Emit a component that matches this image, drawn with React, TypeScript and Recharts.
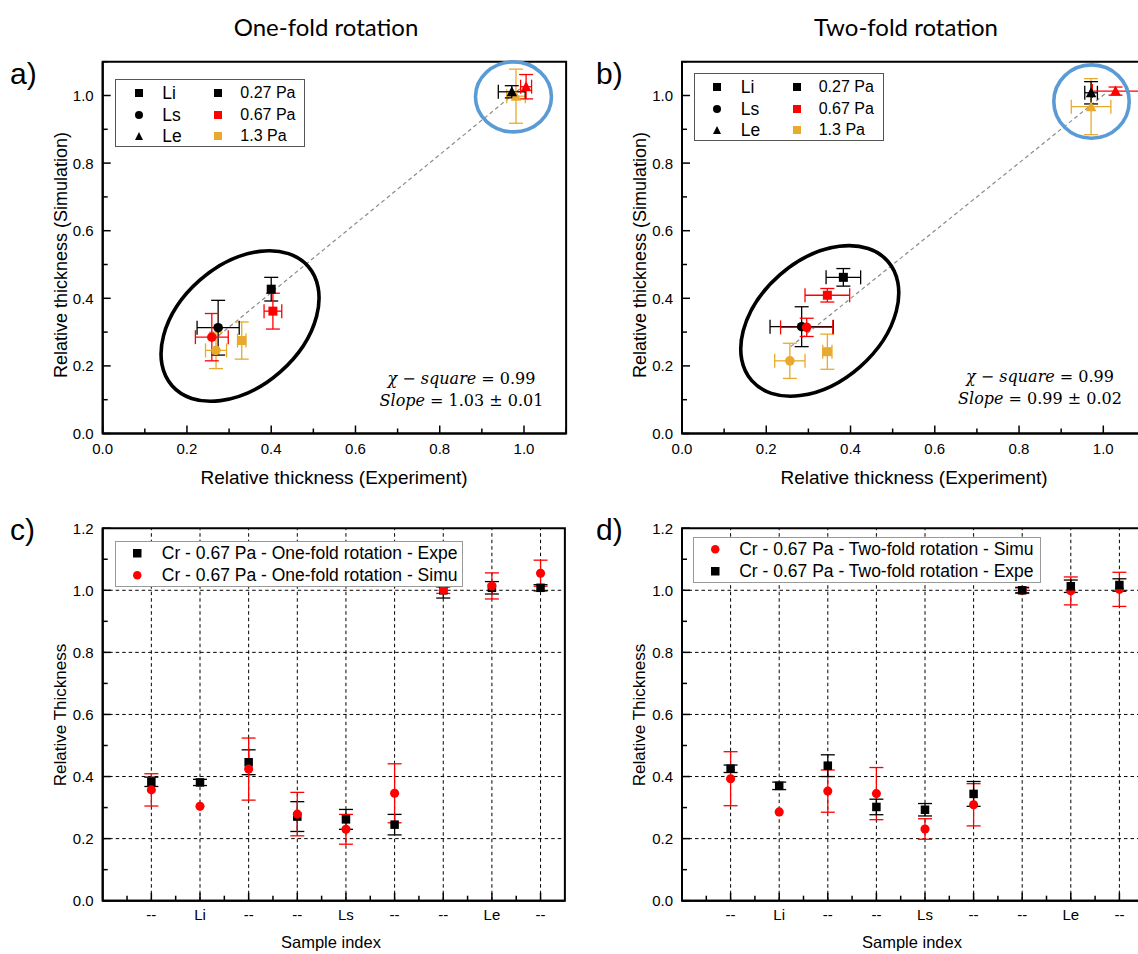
import React from 'react';
import {
  ScatterChart,
  Scatter,
  XAxis,
  YAxis,
  ErrorBar,
  ReferenceLine,
  ReferenceArea,
  ReferenceDot,
} from 'recharts';

// ---------- data: panel a (one-fold rotation, simulation vs experiment) ----------
const oneFold027 = [
  { sample: 'Li', x: 0.4, y: 0.427, ex: 0, ey: 0.035 },
  { sample: 'Ls', x: 0.274, y: 0.313, ex: 0.05, ey: 0.081 },
  { sample: 'Le', x: 0.971, y: 1.011, ex: 0.032, ey: 0.018 },
];
const oneFold067 = [
  { sample: 'Li', x: 0.404, y: 0.362, ex: 0.021, ey: 0.053 },
  { sample: 'Ls', x: 0.259, y: 0.285, ex: 0.039, ey: 0.07 },
  { sample: 'Le', x: 1.005, y: 1.026, ex: 0.013, ey: 0.036 },
];
const oneFold13 = [
  { sample: 'Li', x: 0.33, y: 0.275, ex: 0.01, ey: 0.055 },
  { sample: 'Ls', x: 0.269, y: 0.246, ex: 0.025, ey: 0.054 },
  { sample: 'Le', x: 0.981, y: 0.998, ex: 0.022, ey: 0.08 },
];
const oneFoldFitLine = [
  { x: 0.263, y: 0.277 },
  { x: 0.997, y: 1.026 },
];
const oneFoldEllipseCenter = { x: 0.326, y: 0.318 };
const oneFoldCircleCenter = { x: 0.975, y: 0.996 };

// ---------- data: panel b (two-fold rotation) ----------
const twoFold027 = [
  { sample: 'Li', x: 0.383, y: 0.462, ex: 0.041, ey: 0.026 },
  { sample: 'Ls', x: 0.284, y: 0.316, ex: 0.075, ey: 0.059 },
  { sample: 'Le', x: 0.971, y: 1.008, ex: 0.015, ey: 0.033 },
];
const twoFold067 = [
  { sample: 'Li', x: 0.345, y: 0.409, ex: 0.053, ey: 0.02 },
  { sample: 'Ls', x: 0.296, y: 0.314, ex: 0.062, ey: 0.027 },
  { sample: 'Le', x: 1.029, y: 1.013, ex: 0.055, ey: 0.012 },
];
const twoFold13 = [
  { sample: 'Li', x: 0.345, y: 0.242, ex: 0.011, ey: 0.052 },
  { sample: 'Ls', x: 0.256, y: 0.215, ex: 0.036, ey: 0.052 },
  { sample: 'Le', x: 0.971, y: 0.967, ex: 0.047, ey: 0.083 },
];
const twoFoldFitLine = [
  { x: 0.258, y: 0.257 },
  { x: 1.005, y: 1.006 },
];
const twoFoldEllipseCenter = { x: 0.327, y: 0.333 };
const twoFoldCircleCenter = { x: 0.972, y: 0.982 };

// ---------- data: panels c, d (per sample index) ----------
const sampleIndex = [1, 2, 3, 4, 5, 6, 7, 8, 9];
const sampleLabels = ['--', 'Li', '--', '--', 'Ls', '--', '--', 'Le', '--'];
const oneFoldExpe = [0.383, 0.381, 0.446, 0.271, 0.262, 0.245, 1.0, 1.008, 1.008];
const oneFoldExpeErr = [0.015, 0.01, 0.04, 0.048, 0.032, 0.033, 0.025, 0.02, 0.01];
const oneFoldSimu = [0.357, 0.304, 0.424, 0.279, 0.23, 0.346, 1.0, 1.014, 1.055];
const oneFoldSimuErr = [0.052, 0, 0.1, 0.07, 0.048, 0.095, 0.01, 0.042, 0.042];
const twoFoldSimu = [0.393, 0.286, 0.353, 0.345, 0.231, 0.309, 1.0, 0.998, 1.003];
const twoFoldSimuErr = [0.087, 0, 0.068, 0.084, 0.033, 0.068, 0.01, 0.045, 0.055];
const twoFoldExpe = [0.425, 0.37, 0.435, 0.302, 0.293, 0.344, 1.0, 1.013, 1.017];
const twoFoldExpeErr = [0.012, 0.012, 0.035, 0.025, 0.02, 0.04, 0.008, 0.02, 0.02];

// ---------- ticks ----------
const unitTicks = [0, 0.1, 0.2, 0.3, 0.4, 0.5, 0.6, 0.7, 0.8, 0.9, 1.0, 1.1];
const unitMajors = [0, 0.2, 0.4, 0.6, 0.8, 1.0];
const thickTicks = [0, 0.1, 0.2, 0.3, 0.4, 0.5, 0.6, 0.7, 0.8, 0.9, 1.0, 1.1, 1.2];
const thickMajors = [0, 0.2, 0.4, 0.6, 0.8, 1.0, 1.2];
const thickGrid = [0.2, 0.4, 0.6, 0.8, 1.0];
const sampleTicks = [0.5, 1, 1.5, 2, 2.5, 3, 3.5, 4, 4.5, 5, 5.5, 6, 6.5, 7, 7.5, 8, 8.5, 9];

const BLACK = '#000000';
const RED = '#ff0000';
const YELLOW = '#e8aa2e';
const BLUE = '#5b9bd5';
const SANS = '"Liberation Sans", Arial, sans-serif';
const TITLE = 'Lato, "Open Sans", sans-serif';
const MATH = '"DejaVu Serif", serif';

const isIn = (v: number, arr: number[]) => arr.some((m) => Math.abs(m - v) < 1e-6);

function yTick(axisX: number, majors: number[]) {
  return (p: any) => {
    const v = p.payload.value;
    const major = isIn(v, majors);
    return (
      <g>
        <line x1={axisX} x2={axisX + (major ? 8 : 5)} y1={p.y} y2={p.y} stroke={BLACK} strokeWidth={1.5} />
        {major && (
          <text x={axisX - 9} y={p.y} dy="0.36em" textAnchor="end" fontSize={15} fontFamily={SANS} fill={BLACK}>
            {v.toFixed(1)}
          </text>
        )}
      </g>
    );
  };
}

function xTick(axisY: number, majors: number[], fmt: (v: number) => string, gap: number) {
  return (p: any) => {
    const v = p.payload.value;
    const major = isIn(v, majors);
    return (
      <g>
        <line x1={p.x} x2={p.x} y1={axisY} y2={axisY - (major ? 8 : 5)} stroke={BLACK} strokeWidth={1.5} />
        {major && (
          <text x={p.x} y={axisY + gap} dy="0.72em" textAnchor="middle" fontSize={15} fontFamily={SANS} fill={BLACK}>
            {fmt(v)}
          </text>
        )}
      </g>
    );
  };
}

function markerShape(color: string, kind?: string, size = 9) {
  return (p: any) => {
    const { cx, cy, payload } = p;
    if (cx == null || cy == null) return <g />;
    const k = kind || (payload.sample === 'Li' ? 'square' : payload.sample === 'Ls' ? 'circle' : 'triangle');
    const h = size / 2;
    if (k === 'square') return <rect x={cx - h} y={cy - h} width={size} height={size} fill={color} />;
    if (k === 'circle') return <circle cx={cx} cy={cy} r={h + 0.3} fill={color} />;
    return <polygon points={`${cx},${cy - h - 1} ${cx - h - 0.8},${cy + h} ${cx + h + 0.8},${cy + h}`} fill={color} />;
  };
}

const ellipseShape = (rx: number, ry: number, rot: number, color: string, sw: number) => (p: any) => (
  <ellipse
    cx={p.cx}
    cy={p.cy}
    rx={rx}
    ry={ry}
    transform={`rotate(${rot} ${p.cx} ${p.cy})`}
    fill="none"
    stroke={color}
    strokeWidth={sw}
  />
);

type Pt = { sample: string; x: number; y: number; ex: number; ey: number };

function CorrPanel(props: {
  left: number;
  axisX: number;
  s027: Pt[];
  s067: Pt[];
  s13: Pt[];
  fit: { x: number; y: number }[];
  ell: { x: number; y: number };
  circ: { x: number; y: number };
  circR: [number, number];
}) {
  const W = 600;
  const H = 470;
  const axisY = 433.5;
  const yAxisW = props.axisX - props.left;
  const plotW = 1.1 * 421.3;
  const series: [Pt[], string][] = [
    [props.s13, YELLOW],
    [props.s027, BLACK],
    [props.s067, RED],
  ];
  return (
    <div style={{ position: 'absolute', left: props.left, top: 0 }}>
      <ScatterChart
        width={W}
        height={H}
        margin={{ top: 61.7, right: W - yAxisW - plotW, left: 0, bottom: 0 }}
      >
        <XAxis
          type="number"
          dataKey="x"
          domain={[0, 1.1]}
          ticks={unitTicks}
          interval={0}
          allowDataOverflow
          height={H - axisY}
          axisLine={{ stroke: BLACK, strokeWidth: 2 }}
          tickLine={false}
          tick={xTick(axisY, unitMajors, (v) => v.toFixed(1), 10)}
        />
        <YAxis
          type="number"
          dataKey="y"
          domain={[0, 1.1]}
          ticks={unitTicks}
          interval={0}
          allowDataOverflow
          width={yAxisW}
          axisLine={{ stroke: BLACK, strokeWidth: 2 }}
          tickLine={false}
          tick={yTick(yAxisW, unitMajors)}
        />
        <ReferenceArea x1={0} x2={1.1} y1={0} y2={1.1} fill="none" fillOpacity={0} stroke={BLACK} strokeWidth={2} ifOverflow="visible" />
        <ReferenceLine segment={props.fit} stroke="#8c8c8c" strokeDasharray="4 3" strokeWidth={1.2} ifOverflow="visible" />
        <ReferenceDot x={props.ell.x} y={props.ell.y} r={1} ifOverflow="visible" shape={ellipseShape(90.5, 61, -41.3, BLACK, 3.6)} />
        {series.map(([data, color], i) => (
          <Scatter key={i} data={data} isAnimationActive={false} shape={markerShape(color)}>
            <ErrorBar dataKey="ex" direction="x" width={7} stroke={color} strokeWidth={1.3} />
            <ErrorBar dataKey="ey" direction="y" width={7} stroke={color} strokeWidth={1.3} />
          </Scatter>
        ))}
        <ReferenceDot
          x={props.circ.x}
          y={props.circ.y}
          r={1}
          ifOverflow="visible"
          shape={ellipseShape(props.circR[0], props.circR[1], 0, BLUE, 3.6)}
        />
      </ScatterChart>
    </div>
  );
}

type Row = { x: number; y: number; e: number };
const rows = (vals: number[], errs: number[]): Row[] =>
  sampleIndex.map((c, i) => ({ x: c, y: vals[i], e: errs[i] }));

function IndexPanel(props: {
  left: number;
  axisX: number;
  step: number;
  first: Row[];
  firstColor: string;
  firstKind: string;
  second: Row[];
  secondColor: string;
  secondKind: string;
}) {
  const top = 480;
  const W = 600;
  const H = 474;
  const axisY = 900.7 - top;
  const yAxisW = props.axisX - props.left;
  const plotW = 9.5 * props.step;
  return (
    <div style={{ position: 'absolute', left: props.left, top }}>
      <ScatterChart
        width={W}
        height={H}
        margin={{ top: 528.2 - top, right: W - yAxisW - plotW, left: 0, bottom: 0 }}
      >
        <XAxis
          type="number"
          dataKey="x"
          domain={[0, 9.5]}
          ticks={sampleTicks}
          interval={0}
          allowDataOverflow
          height={H - axisY}
          axisLine={{ stroke: BLACK, strokeWidth: 2 }}
          tickLine={false}
          tick={xTick(axisY, sampleIndex, (v) => sampleLabels[Math.round(v) - 1], 8)}
        />
        <YAxis
          type="number"
          dataKey="y"
          domain={[0, 1.2]}
          ticks={thickTicks}
          interval={0}
          allowDataOverflow
          width={yAxisW}
          axisLine={{ stroke: BLACK, strokeWidth: 2 }}
          tickLine={false}
          tick={yTick(yAxisW, thickMajors)}
        />
        {thickGrid.map((g) => (
          <ReferenceLine key={'h' + g} y={g} stroke={BLACK} strokeDasharray="3.5 3" strokeWidth={1} />
        ))}
        {sampleIndex.map((g) => (
          <ReferenceLine key={'v' + g} x={g} stroke={BLACK} strokeDasharray="3.5 3" strokeWidth={1} />
        ))}
        <ReferenceArea x1={0} x2={9.5} y1={0} y2={1.2} fill="none" fillOpacity={0} stroke={BLACK} strokeWidth={2} ifOverflow="visible" />
        <Scatter data={props.first} isAnimationActive={false} shape={markerShape(props.firstColor, props.firstKind, 8.5)}>
          <ErrorBar dataKey="e" direction="y" width={7} stroke={props.firstColor} strokeWidth={1.3} />
        </Scatter>
        <Scatter data={props.second} isAnimationActive={false} shape={markerShape(props.secondColor, props.secondKind, 8.5)}>
          <ErrorBar dataKey="e" direction="y" width={7} stroke={props.secondColor} strokeWidth={1.3} />
        </Scatter>
      </ScatterChart>
    </div>
  );
}

function Mk({ kind, color, size = 8 }: { kind: string; color: string; size?: number }) {
  const s = size;
  return (
    <svg width={s + 2} height={s + 2} style={{ display: 'block' }}>
      {kind === 'square' && <rect x={1} y={1} width={s} height={s} fill={color} />}
      {kind === 'circle' && <circle cx={1 + s / 2} cy={1 + s / 2} r={s / 2} fill={color} />}
      {kind === 'triangle' && <polygon points={`${1 + s / 2},1 1,${1 + s} ${1 + s},${1 + s}`} fill={color} />}
    </svg>
  );
}

const abs = (l: number, t: number, extra: React.CSSProperties = {}): React.CSSProperties => ({
  position: 'absolute',
  left: l,
  top: t,
  whiteSpace: 'nowrap',
  ...extra,
});

function CorrLegend({ left, top, rowH }: { left: number; top: number; rowH: number }) {
  const shapes = ['square', 'circle', 'triangle'];
  const pressures: [string, string][] = [
    ['0.27 Pa', BLACK],
    ['0.67 Pa', RED],
    ['1.3 Pa', YELLOW],
  ];
  return (
    <div style={abs(left, top, { width: 190, height: 68, border: '1px solid #555', boxSizing: 'border-box', background: '#fff' })}>
      {shapes.map((k, i) => (
        <React.Fragment key={k}>
          <div style={abs(17.5, 13 + i * rowH - 5)}>
            <Mk kind={k} color={BLACK} size={8} />
          </div>
          <div style={abs(46, 13 + i * rowH - 11, { fontSize: 17.5, fontFamily: SANS, lineHeight: '22px' })}>
            {['Li', 'Ls', 'Le'][i]}
          </div>
          <div style={abs(97, 13 + i * rowH - 5)}>
            <Mk kind="square" color={pressures[i][1]} size={8} />
          </div>
          <div style={abs(124, 13 + i * rowH - 10, { fontSize: 16, fontFamily: SANS, lineHeight: '20px' })}>
            {pressures[i][0]}
          </div>
        </React.Fragment>
      ))}
    </div>
  );
}

function IndexLegend({
  left,
  top,
  items,
}: {
  left: number;
  top: number;
  items: { label: string; kind: string; color: string }[];
}) {
  return (
    <div style={abs(left, top, { width: 348, height: 46, border: '1.5px solid #999', boxSizing: 'border-box', background: '#fff' })}>
      {items.map((it, i) => (
        <React.Fragment key={i}>
          <div style={abs(16, 11.5 + i * 21.5 - 5)}>
            <Mk kind={it.kind} color={it.color} size={8.5} />
          </div>
          <div style={abs(45.5, 11.5 + i * 21.5 - 11, { fontSize: 17.5, fontFamily: SANS, lineHeight: '22px' })}>
            {it.label}
          </div>
        </React.Fragment>
      ))}
    </div>
  );
}

function MathText({ cx, top, chi, slope }: { cx: number; top: number; chi: string; slope: string }) {
  const st: React.CSSProperties = { fontFamily: MATH, fontSize: 16, lineHeight: '22px', textAlign: 'center' };
  return (
    <div style={abs(cx - 120, top, { width: 240, ...st })}>
      <div>
        <i>χ</i> − <i>square</i> = {chi}
      </div>
      <div>
        <i>Slope</i> = {slope}
      </div>
    </div>
  );
}

function VLabel({ cx, cy, text, size = 17 }: { cx: number; cy: number; text: string; size?: number }) {
  return (
    <div
      style={abs(cx - 150, cy - 12, {
        width: 300,
        height: 24,
        lineHeight: '24px',
        textAlign: 'center',
        fontFamily: SANS,
        fontSize: size,
        transform: 'rotate(-90deg)',
      })}
    >
      {text}
    </div>
  );
}

function HLabel({ cx, cy, text, size = 17, font = SANS }: { cx: number; cy: number; text: string; size?: number; font?: string }) {
  return (
    <div
      style={abs(cx - 200, cy - 15, {
        width: 400,
        height: 30,
        lineHeight: '30px',
        textAlign: 'center',
        fontFamily: font,
        fontSize: size,
      })}
    >
      {text}
    </div>
  );
}

export default function App() {
  return (
    <div
      style={{
        position: 'absolute',
        left: 0,
        top: 0,
        width: 1138,
        height: 954,
        overflow: 'hidden',
        background: '#fff',
        color: '#000',
      }}
    >
      <HLabel cx={326} cy={27} text="One-fold rotation" size={24} font={TITLE} />
      <HLabel cx={906} cy={27} text="Two-fold rotation" size={24} font={TITLE} />
      <div style={abs(10, 56, { fontSize: 30, fontFamily: SANS, lineHeight: '36px' })}>a)</div>
      <div style={abs(596, 56, { fontSize: 30, fontFamily: SANS, lineHeight: '36px' })}>b)</div>
      <div style={abs(10, 512, { fontSize: 30, fontFamily: SANS, lineHeight: '36px' })}>c)</div>
      <div style={abs(596, 512, { fontSize: 30, fontFamily: SANS, lineHeight: '36px' })}>d)</div>

      <CorrPanel
        left={0}
        axisX={102.7}
        s027={oneFold027}
        s067={oneFold067}
        s13={oneFold13}
        fit={oneFoldFitLine}
        ell={oneFoldEllipseCenter}
        circ={oneFoldCircleCenter}
        circR={[38, 35]}
      />
      <CorrPanel
        left={580}
        axisX={682}
        s027={twoFold027}
        s067={twoFold067}
        s13={twoFold13}
        fit={twoFoldFitLine}
        ell={twoFoldEllipseCenter}
        circ={twoFoldCircleCenter}
        circR={[37.7, 36.7]}
      />
      <IndexPanel
        left={0}
        axisX={102.7}
        step={48.65}
        first={rows(oneFoldExpe, oneFoldExpeErr)}
        firstColor={BLACK}
        firstKind="square"
        second={rows(oneFoldSimu, oneFoldSimuErr)}
        secondColor={RED}
        secondKind="circle"
      />
      <IndexPanel
        left={580}
        axisX={682}
        step={48.6}
        first={rows(twoFoldSimu, twoFoldSimuErr)}
        firstColor={RED}
        firstKind="circle"
        second={rows(twoFoldExpe, twoFoldExpeErr)}
        secondColor={BLACK}
        secondKind="square"
      />

      <CorrLegend left={115.3} top={79.3} rowH={21.4} />
      <CorrLegend left={693.7} top={73.3} rowH={21.4} />
      <IndexLegend
        left={115.3}
        top={540.7}
        items={[
          { label: 'Cr - 0.67 Pa - One-fold rotation - Expe', kind: 'square', color: BLACK },
          { label: 'Cr - 0.67 Pa - One-fold rotation - Simu', kind: 'circle', color: RED },
        ]}
      />
      <IndexLegend
        left={692.7}
        top={536.7}
        items={[
          { label: 'Cr - 0.67 Pa - Two-fold rotation - Simu', kind: 'circle', color: RED },
          { label: 'Cr - 0.67 Pa - Two-fold rotation - Expe', kind: 'square', color: BLACK },
        ]}
      />

      <MathText cx={461.5} top={368} chi="0.99" slope="1.03 ± 0.01" />
      <MathText cx={1040} top={366} chi="0.99" slope="0.99 ± 0.02" />

      <HLabel cx={334} cy={478} text="Relative thickness (Experiment)" size={19} />
      <HLabel cx={914} cy={478} text="Relative thickness (Experiment)" size={19} />
      <HLabel cx={331} cy={942} text="Sample index" size={16.5} />
      <HLabel cx={912} cy={942} text="Sample index" size={16.5} />
      <VLabel cx={61} cy={255} text="Relative thickness (Simulation)" size={18} />
      <VLabel cx={640} cy={255} text="Relative thickness (Simulation)" size={18} />
      <VLabel cx={61} cy={715} text="Relative Thickness" size={17} />
      <VLabel cx={640} cy={715} text="Relative Thickness" size={17} />
    </div>
  );
}
